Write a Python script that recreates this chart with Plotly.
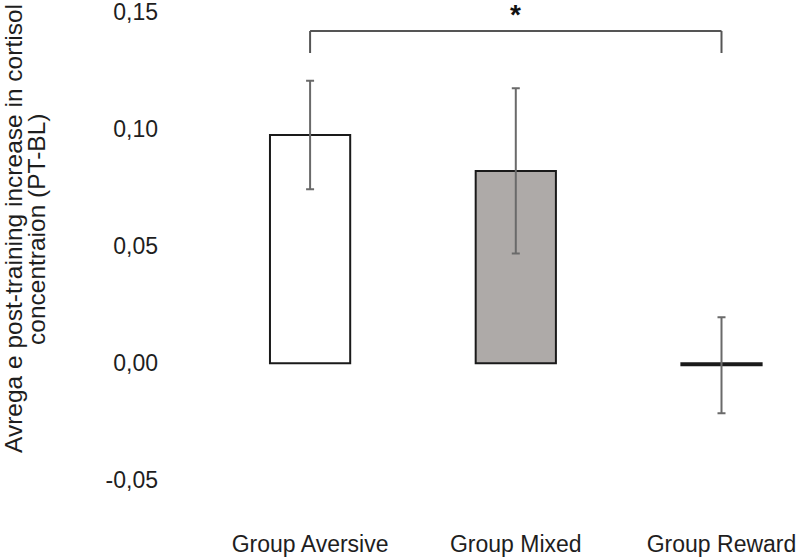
import plotly.graph_objects as go

categories = ["Group Aversive", "Group Mixed", "Group Reward"]
means = [0.0976, 0.0822, -0.0008]
errors = [0.0232, 0.0353, 0.0205]
fills = ["#ffffff", "#aeaaa8", "#111111"]
y_ticks = [-0.05, 0.0, 0.05, 0.10, 0.15]
y_tick_text = ["-0,05", "0,00", "0,05", "0,10", "0,15"]
y_title_lines = ["Avrega e post-training increase in cortisol", "concentraion (PT-BL)"]
sig_pair = (0, 2)
sig_label = "*"

FONT = "Liberation Sans, Arial, sans-serif"
TXT = "#1e1e1e"

fig = go.Figure()
fig.add_trace(go.Bar(
    x=categories, y=means,
    width=0.39,
    marker=dict(color=fills, line=dict(color="#1a1a1a", width=2)),
    error_y=dict(type="data", array=errors, visible=True,
                 color="#6a6a6a", thickness=2, width=4),
    showlegend=False,
))

# significance bracket
bracket_top = 0.1420
bracket_drop = 0.0094
x0, x1 = categories[sig_pair[0]], categories[sig_pair[1]]
fig.add_shape(type="line", xref="x", yref="y", x0=x0, x1=x1,
              y0=bracket_top, y1=bracket_top, line=dict(color="#555555", width=2))
for xc in (x0, x1):
    fig.add_shape(type="line", xref="x", yref="y", x0=xc, x1=xc,
                  y0=bracket_top, y1=bracket_top - bracket_drop,
                  line=dict(color="#555555", width=2))
fig.add_annotation(x=categories[1], y=1.023, xref="x", yref="paper",
                   text="<b>" + sig_label + "</b>", showarrow=False,
                   font=dict(family=FONT, size=28, color="#111111"),
                   xanchor="center", yanchor="top", borderpad=0)

# y-axis title (two lines)
for i, line in enumerate(y_title_lines):
    fig.add_annotation(x=[-0.2516, -0.2145][i], y=0.5756, xref="paper", yref="paper",
                       text=line, textangle=-90, showarrow=False,
                       font=dict(family=FONT, size=24.5, color=TXT),
                       xanchor="center", yanchor="middle", borderpad=0)

fig.update_layout(
    width=800, height=559,
    margin=dict(l=170, r=10, t=10, b=33, autoexpand=False),
    paper_bgcolor="white", plot_bgcolor="white",
    font=dict(family=FONT, size=23, color=TXT),
)
fig.update_xaxes(type="category", range=[-0.681, 2.333], showline=False,
                 showgrid=False, zeroline=False, ticks="", automargin=False,
                 tickfont=dict(family=FONT, size=23, color=TXT),
                 ticklabelstandoff=2, ticklabeloverflow="allow")
fig.update_yaxes(range=[-0.0695, 0.15098], tickvals=y_ticks, ticktext=y_tick_text,
                 showline=False, showgrid=False, zeroline=False, ticks="",
                 automargin=False,
                 tickfont=dict(family=FONT, size=23, color=TXT),
                 ticklabelstandoff=11, ticklabeloverflow="allow")

fig.write_html("out.html", config={"displayModeBar": False},
               post_script="document.body.style.margin='0';document.body.style.overflow='hidden';")
